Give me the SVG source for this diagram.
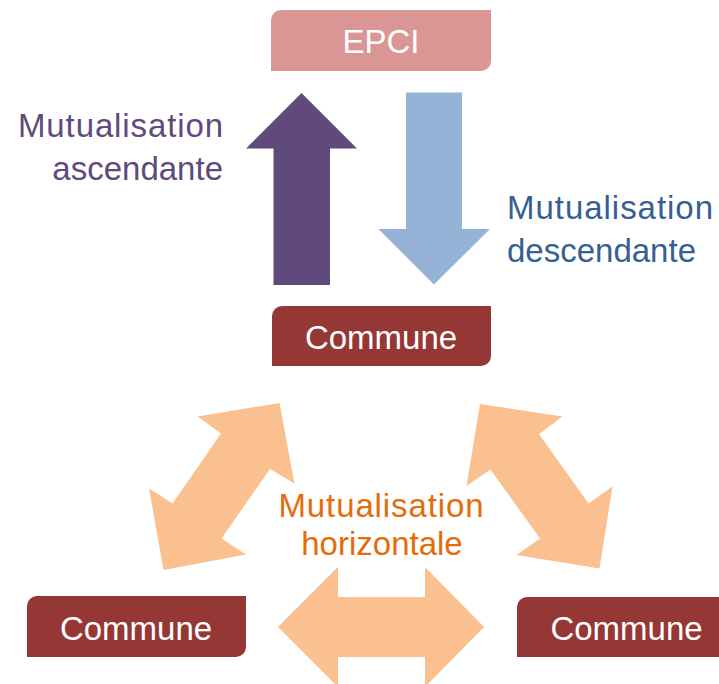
<svg xmlns="http://www.w3.org/2000/svg" width="719" height="684" viewBox="0 0 719 684">
  <style>
    text { font-family: "Liberation Sans", Arial, sans-serif; font-size: 33px; }
    .box-label { fill: #ffffff; text-anchor: middle; }
    .epci { fill: #D99694; }
    .commune { fill: #953735; }
    .up { fill: #604A7B; }
    .down { fill: #95B3D7; }
    .horiz { fill: #FAC090; }
    .t-up { fill: #604A7B; text-anchor: end; }
    .t-down { fill: #376092; text-anchor: start; }
    .t-horiz { fill: #E46C0A; text-anchor: middle; }
  </style>

  <!-- connectors: block arrows between the levels -->
  <g id="connectors">
    <polygon id="arrow-up" class="up" points="301.5,93 357,148.5 330,148.5 330,285 273.5,285 273.5,148.5 246,148.5"/>
    <polygon id="arrow-down" class="down" points="406,92.5 462,92.5 462,229 490,229 434,284.5 378.5,229 406,229"/>
    <polygon id="arrow-left-diag" class="horiz" points="279.5,403 294.5,483.5 270,469 221.5,538.5 246,554.5 163.5,570 149,488.5 172.5,503.5 221,433.5 197.5,416.5"/>
    <polygon id="arrow-right-diag" class="horiz" points="480,404 562.5,416.5 539,434 588.5,503.5 612.5,486.5 599.5,568.5 516.5,555 540,538.5 490.5,469.5 466.5,486"/>
    <polygon id="arrow-horizontal" class="horiz" points="278,627 338,567 338,597 425,597 425,567 484,627 425,687 425,657 338,657 338,687"/>
  </g>

  <g id="epci">
    <path class="epci" d="M281,10 H491 V61 A10,10 0 0 1 481,71 H271 V20 A10,10 0 0 1 281,10 Z"/>
    <text class="box-label" x="381" y="53">EPCI</text>
  </g>

  <g id="commune-center">
    <path class="commune" d="M282,306 H491 V356 A10,10 0 0 1 481,366 H272 V316 A10,10 0 0 1 282,306 Z"/>
    <text class="box-label" x="381" y="349">Commune</text>
  </g>

  <g id="commune-left">
    <path class="commune" d="M37,596 H246 V647 A10,10 0 0 1 236,657 H27 V606 A10,10 0 0 1 37,596 Z"/>
    <text class="box-label" x="136" y="640">Commune</text>
  </g>

  <g id="commune-right">
    <path class="commune" d="M527,597 H736 V647 A10,10 0 0 1 726,657 H517 V607 A10,10 0 0 1 527,597 Z"/>
    <text class="box-label" x="626.5" y="640">Commune</text>
  </g>

  <g id="label-ascendante">
    <text class="t-up" x="223" y="137" textLength="205" lengthAdjust="spacing">Mutualisation</text>
    <text class="t-up" x="223" y="180">ascendante</text>
  </g>

  <g id="label-descendante">
    <text class="t-down" x="507" y="219" textLength="206" lengthAdjust="spacing">Mutualisation</text>
    <text class="t-down" x="507" y="262">descendante</text>
  </g>

  <g id="label-horizontale">
    <text class="t-horiz" x="381" y="517" textLength="205" lengthAdjust="spacing">Mutualisation</text>
    <text class="t-horiz" x="382" y="555">horizontale</text>
  </g>
</svg>
